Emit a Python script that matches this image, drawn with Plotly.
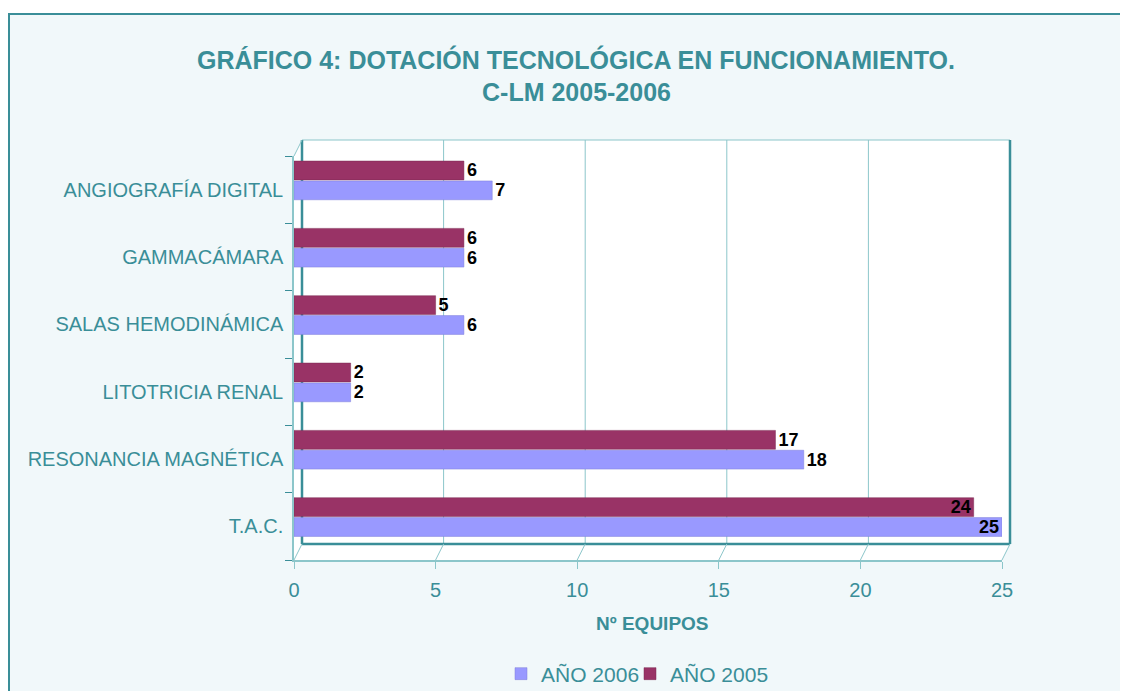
import plotly.graph_objects as go

categories = ["T.A.C.", "RESONANCIA MAGNÉTICA", "LITOTRICIA RENAL",
              "SALAS HEMODINÁMICA", "GAMMACÁMARA", "ANGIOGRAFÍA DIGITAL"]
vals_2006 = [25, 18, 2, 6, 6, 7]
vals_2005 = [24, 17, 2, 5, 6, 6]
x_ticks = [0, 5, 10, 15, 20, 25]

TEAL = "#3A8E98"
TEAL_L = "#8CC6CA"
W, H = 1128, 691
SH = 8  # page body margin compensation
L, R, T, B = 294, 1002, 156, 560
DX, DY = 8, 16
XMAX = 25


def px(x):
    return (x - L) / (R - L)


def py(y):
    return (B - y) / (B - T)


def vx(v):
    return L + v * (R - L) / XMAX


def tpos(vals):
    return ["inside" if v >= 24 else "outside" for v in vals]


LABEL_FONT = dict(family="Arial, Liberation Sans", size=18, color="black", weight="bold")

fig = go.Figure()
fig.add_trace(go.Bar(
    y=categories, x=vals_2006, orientation="h", name="AÑO 2006", legend="legend",
    marker=dict(color="#9999FF", line=dict(color="#7F7FD8", width=0.5)),
    offset=-0.15, width=0.28,
    text=[str(v) for v in vals_2006], textposition=tpos(vals_2006),
    insidetextanchor="end", constraintext="none", textangle=0,
    textfont=LABEL_FONT, insidetextfont=LABEL_FONT, outsidetextfont=LABEL_FONT,
    cliponaxis=False,
))
fig.add_trace(go.Bar(
    y=categories, x=vals_2005, orientation="h", name="AÑO 2005", legend="legend2",
    marker=dict(color="#993366", line=dict(color="#7A2850", width=0.5)),
    offset=0.145, width=0.28,
    text=[str(v) for v in vals_2005], textposition=tpos(vals_2005),
    insidetextanchor="end", constraintext="none", textangle=0,
    textfont=LABEL_FONT, insidetextfont=LABEL_FONT, outsidetextfont=LABEL_FONT,
    cliponaxis=False,
))

shapes = []
shapes.append(dict(type="rect", xref="paper", yref="paper", layer="below",
                   x0=px(9), x1=px(W + 40), y0=py(14), y1=py(H + 60),
                   fillcolor="#F1F8FA", line=dict(color=TEAL, width=2)))
pts = [(L, T), (L + DX, T - DY), (R + DX, T - DY), (R + DX, B - DY), (R, B), (L, B)]
path = "M " + " L ".join(f"{px(a)},{py(b)}" for a, b in pts) + " Z"
shapes.append(dict(type="path", xref="paper", yref="paper", layer="below",
                   path=path, fillcolor="white", line=dict(width=0)))


def seg(x0, y0, x1, y1, color, width):
    shapes.append(dict(type="line", xref="paper", yref="paper", layer="below",
                       x0=px(x0), y0=py(y0), x1=px(x1), y1=py(y1),
                       line=dict(color=color, width=width)))


for v in x_ticks[1:-1]:
    seg(vx(v) + DX, T - DY, vx(v) + DX, B - DY, TEAL_L, 1)
seg(L + DX, T - DY, R + DX, T - DY, TEAL_L, 1)
seg(L + DX, T - DY, L + DX, B - DY, TEAL, 2.5)
seg(L + DX, B - DY, R + DX, B - DY, TEAL, 2.5)
seg(R + DX, T - DY, R + DX, B - DY, TEAL, 2.5)
seg(L, T, L + DX, T - DY, TEAL_L, 1)
for v in x_ticks:
    seg(vx(v), B, vx(v) + DX, B - DY, TEAL_L, 1)

legend_common = dict(orientation="h", xanchor="left", yanchor="middle",
                     font=dict(size=21, color=TEAL), bgcolor="rgba(0,0,0,0)",
                     itemwidth=30)

fig.update_layout(
    width=W, height=H,
    margin=dict(l=L - SH, r=W - (R - SH), t=T - SH, b=H - (B - SH), pad=0,
                autoexpand=False),
    paper_bgcolor="white",
    plot_bgcolor="rgba(0,0,0,0)",
    barmode="overlay",
    showlegend=True,
    shapes=shapes,
    font=dict(family="Arial, Liberation Sans", color=TEAL),
    annotations=[
        dict(text="<b>GRÁFICO 4: DOTACIÓN TECNOLÓGICA EN FUNCIONAMIENTO.</b>",
             xref="paper", yref="paper", x=px(576), y=py(59), showarrow=False,
             font=dict(size=25, color=TEAL), xanchor="center", yanchor="middle"),
        dict(text="<b>C-LM 2005-2006</b>",
             xref="paper", yref="paper", x=px(576), y=py(92), showarrow=False,
             font=dict(size=25, color=TEAL), xanchor="center", yanchor="middle"),
        dict(text="<b>Nº EQUIPOS</b>",
             xref="paper", yref="paper", x=px(652), y=py(623), showarrow=False,
             font=dict(size=19, color=TEAL), xanchor="center", yanchor="middle"),
    ],
    legend=dict(x=px(541 - 40), y=py(674), **legend_common),
    legend2=dict(x=px(670 - 40), y=py(674), **legend_common),
    xaxis=dict(range=[0, XMAX], tickvals=x_ticks, showgrid=False, zeroline=False,
               showline=True, linecolor=TEAL_L, linewidth=1.5,
               ticks="outside", ticklen=7, tickcolor=TEAL_L, ticklabelstandoff=4,
               tickfont=dict(size=20, color=TEAL)),
    yaxis=dict(type="category", categoryorder="array", categoryarray=categories,
               range=[-0.5, 5.5], showgrid=False, zeroline=False,
               showline=True, linecolor=TEAL_L, linewidth=1.5,
               ticks="outside", ticklen=7, tickcolor=TEAL, tickson="boundaries",
               ticklabelstandoff=5,
               tickfont=dict(size=20, color=TEAL)),
)

fig.write_html("out.html")
